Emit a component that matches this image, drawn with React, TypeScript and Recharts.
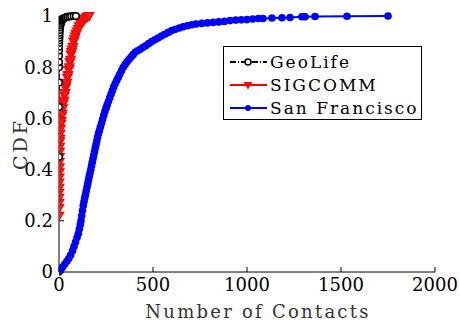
import React from 'react';
import { LineChart, Line, XAxis, YAxis, Label } from 'recharts';

// [Number of Contacts, CDF]
const geoLife: [number, number][] = [
  [0, 0.45], [0, 0.645], [0, 0.74], [0, 0.8], [0, 0.82], [0, 0.845], [0, 0.865], [0, 0.88], [1, 0.895], [1, 0.905],
  [2, 0.915], [2, 0.925], [3, 0.935], [4, 0.945], [5, 0.955], [7, 0.963], [9, 0.97], [12, 0.977], [15, 0.982],
  [19, 0.986], [24, 0.99], [30, 0.993], [37, 0.995], [45, 0.997], [55, 0.998], [65, 0.999], [78, 1.0], [90, 1.0],
];

const sigcomm: [number, number][] = [
  [0, 0.22], [0, 0.25], [0, 0.27], [0, 0.29], [0, 0.31], [1, 0.33], [1, 0.35], [1, 0.37], [2, 0.39], [2, 0.41],
  [2, 0.43], [3, 0.45], [3, 0.47], [4, 0.49], [4, 0.51], [5, 0.52], [6, 0.54], [8, 0.56], [10, 0.58], [12, 0.59],
  [14, 0.61], [17, 0.62], [20, 0.64], [23, 0.66], [26, 0.67], [29, 0.69], [32, 0.7], [35, 0.72], [38, 0.73],
  [41, 0.74], [45, 0.76], [48, 0.77], [52, 0.79], [55, 0.8], [58, 0.82], [61, 0.83], [64, 0.85], [67, 0.86],
  [70, 0.87], [74, 0.88], [78, 0.9], [82, 0.91], [86, 0.92], [91, 0.93], [96, 0.94], [102, 0.95], [108, 0.96],
  [115, 0.97], [122, 0.975], [130, 0.98], [137, 0.99], [145, 0.995], [152, 0.998], [160, 1.0],
];

const sanFrancisco: [number, number][] = [
  [0, 0], [8, 0.008], [18, 0.018], [30, 0.03], [42, 0.042], [52, 0.053], [62, 0.066], [72, 0.083], [80, 0.1],
  [88, 0.117], [96, 0.135], [103, 0.15], [108, 0.168], [113, 0.185], [117, 0.2], [121, 0.22], [125, 0.24],
  [129, 0.26], [133, 0.275], [137, 0.29], [141, 0.303], [145, 0.317], [149, 0.332], [153, 0.346], [157, 0.36],
  [161, 0.374], [165, 0.387], [169, 0.4], [173, 0.415], [177, 0.429], [181, 0.443], [185, 0.457], [189, 0.471],
  [193, 0.485], [197, 0.498], [201, 0.512], [205, 0.526], [210, 0.541], [215, 0.553], [220, 0.566], [226, 0.581],
  [232, 0.596], [238, 0.612], [244, 0.627], [250, 0.64], [256, 0.652], [263, 0.667], [270, 0.681], [277, 0.695],
  [284, 0.709], [291, 0.723], [299, 0.736], [307, 0.748], [315, 0.76], [323, 0.772], [332, 0.786], [341, 0.799],
  [351, 0.81], [361, 0.82], [372, 0.83], [383, 0.84], [394, 0.849], [405, 0.858], [418, 0.864], [432, 0.87],
  [446, 0.877], [461, 0.884], [477, 0.892], [493, 0.9], [510, 0.907], [527, 0.914], [545, 0.922], [563, 0.929],
  [581, 0.936], [600, 0.943], [620, 0.948], [640, 0.953], [660, 0.958], [683, 0.962], [706, 0.966], [730, 0.969],
  [760, 0.971], [790, 0.973], [820, 0.975], [850, 0.977], [880, 0.979], [910, 0.982], [940, 0.984], [970, 0.985],
  [1000, 0.986], [1030, 0.988], [1060, 0.99], [1085, 0.99], [1133, 0.992], [1186, 0.993], [1229, 0.994],
  [1292, 0.997], [1309, 0.997], [1362, 0.998], [1532, 0.999], [1750, 1.0],
];

const xTicks = [0, 500, 1000, 1500, 2000];
const yTicks = [0, 0.2, 0.4, 0.6, 0.8, 1];
const seriesNames = ['GeoLife', 'SIGCOMM', 'San Francisco'];
const seriesColors = ['#000000', '#ff0000', '#0000ff'];

const toRows = (pairs: [number, number][]) => pairs.map(([x, y]) => ({ x, y }));
const geoData = toRows(geoLife);
const sigData = toRows(sigcomm);
const sfData = toRows(sanFrancisco);

const FONT = 'DejaVu Serif, Liberation Serif, serif';

const CircleOpen = (props: any) => {
  const { cx, cy, index } = props;
  if (cx == null || cy == null) return <g key={index} />;
  return <circle key={index} cx={cx} cy={cy} r={3.3} fill="#fff" stroke="#000" strokeWidth={1.6} />;
};
const TriDown = (props: any) => {
  const { cx, cy, index } = props;
  if (cx == null || cy == null) return <g key={index} />;
  const s = 4.7;
  return (
    <polygon key={index} points={`${cx - s},${cy - s * 0.7} ${cx + s},${cy - s * 0.7} ${cx},${cy + s}`} fill="#ff2020" stroke="#ff0000" strokeWidth={1.2} />
  );
};
const DotFilled = (props: any) => {
  const { cx, cy, index } = props;
  if (cx == null || cy == null) return <g key={index} />;
  return <circle key={index} cx={cx} cy={cy} r={3.8} fill="#0000ff" />;
};

const LegendBox = () => (
  <svg width={200} height={75} style={{ display: 'block' }}>
    <rect x={0.5} y={0.5} width={198} height={73} fill="#fff" stroke="#000" strokeWidth={1} />
    {seriesNames.map((name, i) => {
      const cy = 16 + i * 23;
      return (
        <g key={name}>
          <line x1={7} x2={44} y1={cy} y2={cy} stroke={seriesColors[i]} strokeWidth={2} strokeDasharray={i === 0 ? '6 2 1 2' : undefined} />
          {i === 0 && <circle cx={25} cy={cy} r={3} fill="#fff" stroke="#000" strokeWidth={1.5} />}
          {i === 1 && <polygon points={`${25 - 4.5},${cy - 3} ${25 + 4.5},${cy - 3} ${25},${cy + 4.5}`} fill="#ff0000" />}
          {i === 2 && <circle cx={25} cy={cy} r={3} fill="#0000ff" />}
          <text x={47} y={cy + 6} fontFamily={FONT} fontSize={17} letterSpacing={2} fill="#000">{name}</text>
        </g>
      );
    })}
  </svg>
);

const XLabel = (props: any) => {
  const vb = props.viewBox || {};
  const cx = (vb.x ?? 0) + (vb.width ?? 0) / 2 + 11;
  return (
    <text x={cx} y={318} textAnchor="middle" fontFamily={FONT} fontSize={18} letterSpacing={2.25} fill="#333">Number of Contacts</text>
  );
};

export default function App() {
  return (
    <div style={{ position: 'fixed', left: 0, top: 0, width: 460, height: 322, background: '#fff' }}>
      <LineChart width={460} height={322} margin={{ top: 16, right: 25, bottom: 0, left: 19 }}>
        <XAxis
          dataKey="x"
          type="number"
          domain={[0, 2000]}
          ticks={xTicks}
          allowDataOverflow
          height={50}
          stroke="#000"
          tickSize={-5}
          tickMargin={11}
          tick={{ fill: '#000', fontFamily: FONT, fontSize: 18 }}
        >
          <Label content={<XLabel />} />
        </XAxis>
        <XAxis xAxisId="top" orientation="top" type="number" domain={[0, 2000]} ticks={xTicks} height={0} stroke="#000" tickSize={-5} tick={false} />
        <YAxis
          type="number"
          domain={[0, 1]}
          ticks={yTicks}
          width={40}
          stroke="#000"
          tickSize={-5}
          tickMargin={11}
          tick={{ fill: '#000', fontFamily: FONT, fontSize: 18 }}
          tickFormatter={(v: number) => String(v)}
        >
          <Label value="CDF" angle={-90} position="insideLeft" offset={1} style={{ fill: '#333', fontFamily: FONT, fontSize: 19, letterSpacing: 3, textAnchor: 'middle' }} />
        </YAxis>
        <YAxis yAxisId="right" orientation="right" type="number" domain={[0, 1]} ticks={yTicks} width={0} stroke="#000" tickSize={-5} tick={false} />
        <Line data={sfData} dataKey="y" name={seriesNames[2]} stroke={seriesColors[2]} strokeWidth={2} dot={DotFilled} isAnimationActive={false} />
        <Line data={sigData} dataKey="y" name={seriesNames[1]} stroke={seriesColors[1]} strokeWidth={2} dot={TriDown} isAnimationActive={false} />
        <Line data={geoData} dataKey="y" name={seriesNames[0]} stroke={seriesColors[0]} strokeWidth={1.5} strokeDasharray="6 2 1 2" dot={CircleOpen} isAnimationActive={false} />
      </LineChart>
      <div style={{ position: 'absolute', left: 223, top: 46 }}>
        <LegendBox />
      </div>
    </div>
  );
}
